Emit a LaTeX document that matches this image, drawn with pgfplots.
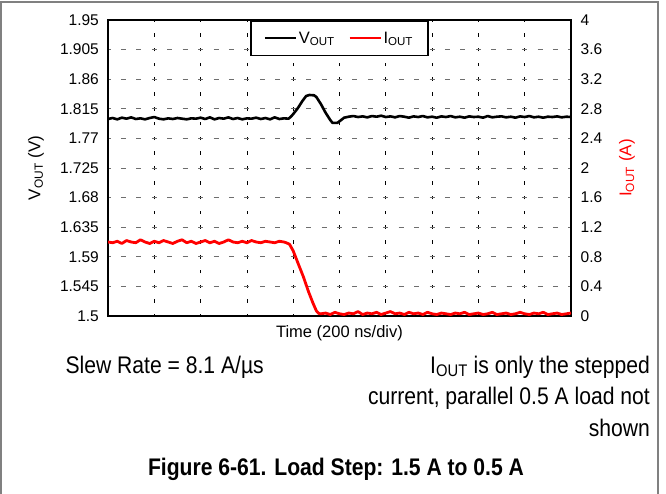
\documentclass[border=0pt]{standalone}
\usepackage{pgfplots}
\pgfplotsset{compat=1.18}
\usepackage{fontspec}
\setmainfont{Liberation Sans}
\newfontfamily\narrowfont[FakeStretch=0.88]{Liberation Sans}
\definecolor{gridgray}{RGB}{110,110,110}
\definecolor{framegray}{RGB}{128,128,128}

\pgfplotstableread{
x y
0.0 1.7995
0.1 1.8010
0.2 1.7990
0.3 1.8015
0.4 1.8000
0.5 1.8020
0.6 1.7995
0.7 1.8005
0.8 1.7990
0.9 1.8010
1.0 1.8025
1.1 1.8000
1.2 1.7990
1.3 1.8005
1.4 1.7995
1.5 1.8010
1.6 1.8000
1.7 1.7990
1.8 1.8005
1.9 1.8000
2.0 1.8015
2.1 1.7995
2.2 1.8020
2.3 1.7990
2.4 1.8010
2.5 1.8000
2.6 1.8020
2.7 1.7995
2.8 1.8010
2.9 1.7990
3.0 1.8005
3.1 1.8000
3.2 1.8015
3.3 1.7995
3.4 1.8010
3.5 1.7990
3.6 1.8020
3.7 1.7995
3.8 1.8005
3.9 1.8000
3.95 1.8030
4.0 1.8070
4.1 1.8160
4.2 1.8270
4.28 1.8345
4.35 1.8360
4.45 1.8355
4.5 1.8330
4.6 1.8220
4.7 1.8090
4.8 1.7980
4.85 1.7935
4.95 1.7935
5.0 1.7960
5.1 1.8015
5.2 1.8030
5.3 1.8040
5.4 1.8025
5.5 1.8035
5.6 1.8020
5.7 1.8040
5.8 1.8030
5.9 1.8045
6.0 1.8025
6.1 1.8035
6.2 1.8020
6.3 1.8040
6.4 1.8030
6.5 1.8015
6.6 1.8035
6.7 1.8025
6.8 1.8040
6.9 1.8020
7.0 1.8030
7.1 1.8015
7.2 1.8035
7.3 1.8025
7.4 1.8040
7.5 1.8020
7.6 1.8030
7.7 1.8015
7.8 1.8035
7.9 1.8025
8.0 1.8030
8.1 1.8015
8.2 1.8040
8.3 1.8020
8.4 1.8030
8.5 1.8035
8.6 1.8020
8.7 1.8030
8.8 1.8015
8.9 1.8035
9.0 1.8025
9.1 1.8040
9.2 1.8020
9.3 1.8030
9.4 1.8015
9.5 1.8030
9.6 1.8025
9.7 1.8035
9.8 1.8020
9.9 1.8030
10.0 1.8025
}\vout

\pgfplotstableread{
x y
0.0 1.00
0.1 0.99
0.2 1.01
0.3 0.98
0.4 1.02
0.5 1.00
0.6 0.99
0.7 1.03
0.8 1.00
0.9 0.98
1.0 1.01
1.1 0.99
1.2 1.02
1.3 1.00
1.4 0.98
1.5 1.01
1.6 1.03
1.7 0.99
1.8 1.01
1.9 0.98
2.0 1.00
2.1 1.02
2.2 0.99
2.3 1.01
2.4 0.98
2.5 1.00
2.6 1.03
2.7 1.00
2.8 0.99
2.9 1.01
3.0 0.99
3.1 1.02
3.2 1.00
3.3 0.99
3.4 1.01
3.5 1.00
3.6 0.99
3.7 1.01
3.8 1.00
3.85 0.99
3.92 0.97
4.0 0.88
4.1 0.72
4.22 0.53
4.33 0.33
4.43 0.17
4.5 0.07
4.55 0.035
4.6 0.03
4.7 0.04
4.8 0.02
4.9 0.05
5.0 0.03
5.1 0.02
5.2 0.04
5.3 0.03
5.4 0.06
5.5 0.02
5.6 0.04
5.7 0.03
5.8 0.05
5.9 0.02
6.0 0.04
6.1 0.06
6.2 0.03
6.3 0.04
6.4 0.02
6.5 0.05
6.6 0.03
6.7 0.04
6.8 0.02
6.9 0.05
7.0 0.03
7.1 0.02
7.2 0.04
7.3 0.03
7.4 0.02
7.5 0.04
7.6 0.03
7.7 0.05
7.8 0.02
7.9 0.03
8.0 0.04
8.1 0.02
8.2 0.03
8.3 0.05
8.4 0.02
8.5 0.03
8.6 0.04
8.7 0.02
8.8 0.03
8.9 0.05
9.0 0.03
9.1 0.02
9.2 0.04
9.3 0.03
9.4 0.05
9.5 0.02
9.6 0.03
9.7 0.04
9.8 0.02
9.9 0.03
10.0 0.04
}\iout

\begin{document}
\begin{tikzpicture}
\useasboundingbox (0pt,0pt) rectangle (666pt,-493pt);
\draw[framegray, line width=2pt] (1pt,-2pt) rectangle (658pt,-520pt);

\pgfplotsset{
  every axis/.append style={
    at={(108pt,-316pt)}, anchor=south west,
    width=463pt, height=296pt, scale only axis,
    xmin=0, xmax=10,
    axis line style={line width=2.2pt},
    tick label style={font=\fontsize{15.5}{18}\selectfont},
    /pgf/number format/assume math mode=true,
    major tick length=0pt,
    label style={font=\fontsize{17}{20}\selectfont},
  }
}

\begin{axis}[
  ymin=1.5, ymax=1.95,
  ytick={1.5,1.545,1.59,1.635,1.68,1.725,1.77,1.815,1.86,1.905,1.95},
  yticklabels={1.5,1.545,1.59,1.635,1.68,1.725,1.77,1.815,1.86,1.905,1.95},
  yticklabel style={anchor=east, inner sep=0pt, xshift=-9pt},
  xtick={1,2,3,4,5,6,7,8,9}, xticklabels={},
  grid=major,
  major x grid style={black, line width=0.7pt, dash pattern=on 3.5pt off 11.3pt, dash phase=1.75pt},
  major y grid style={gridgray, line width=0.7pt, dash pattern=on 5pt off 10.43pt, dash phase=2.5pt},
  ylabel={V\textsubscript{OUT} (V)},
  ylabel style={at={(axis description cs:-0.1555,0.5)}, anchor=center, rotate=0},
  xlabel={Time (200 ns/div)},
  xlabel style={at={(axis description cs:0.5,-0.058)}, anchor=center, font=\fontsize{16.5}{19}\selectfont},
]
\addplot[black, line width=2.6pt, line join=round] table[x=x,y=y] {\vout};
\end{axis}

\begin{axis}[
  ymin=0, ymax=4,
  axis y line*=right, axis x line=none,
  ytick={0,0.4,0.8,1.2,1.6,2,2.4,2.8,3.2,3.6,4},
  yticklabels={0,0.4,0.8,1.2,1.6,2,2.4,2.8,3.2,3.6,4},
  yticklabel style={anchor=west, inner sep=0pt, xshift=9.5pt},
  ylabel={I\textsubscript{OUT} (A)},
  ylabel style={at={(axis description cs:1.121,0.5)}, anchor=center, rotate=0, red},
  legend columns=2,
  legend style={at={(axis description cs:0.5,1)}, anchor=north, draw=black, line width=1.5pt,
    font=\fontsize{16.5}{19}\selectfont, inner xsep=13pt, inner ysep=9pt,
    /tikz/every even column/.append style={column sep=12pt}},
  legend image code/.code={\draw[#1, line width=1.8pt] (0pt,0pt) -- (31pt,0pt);},
]
\addlegendimage{black}
\addlegendentry{V\textsubscript{OUT}}
\addplot[red, line width=2.8pt, line join=round] table[x=x,y=y] {\iout};
\addlegendentry{I\textsubscript{OUT}}
\end{axis}

\node[anchor=base west, font=\narrowfont\fontsize{24}{28}\selectfont] at (62pt,-373pt) {Slew Rate = 8.1 A/µs};
\node[anchor=base east, font=\narrowfont\fontsize{24}{28}\selectfont, inner sep=0pt] at (650pt,-373pt) {I\textsubscript{OUT} is only the stepped};
\node[anchor=base east, font=\narrowfont\fontsize{24}{28}\selectfont, inner sep=0pt] at (650pt,-404.5pt) {current, parallel 0.5 A load not};
\node[anchor=base east, font=\narrowfont\fontsize{24}{28}\selectfont, inner sep=0pt] at (650pt,-436pt) {shown};
\node[anchor=base, font=\narrowfont\bfseries\fontsize{24}{28}\selectfont, inner sep=0pt] at (336pt,-475.7pt) {Figure 6-61. Load Step: 1.5 A to 0.5 A};
\end{tikzpicture}
\end{document}
